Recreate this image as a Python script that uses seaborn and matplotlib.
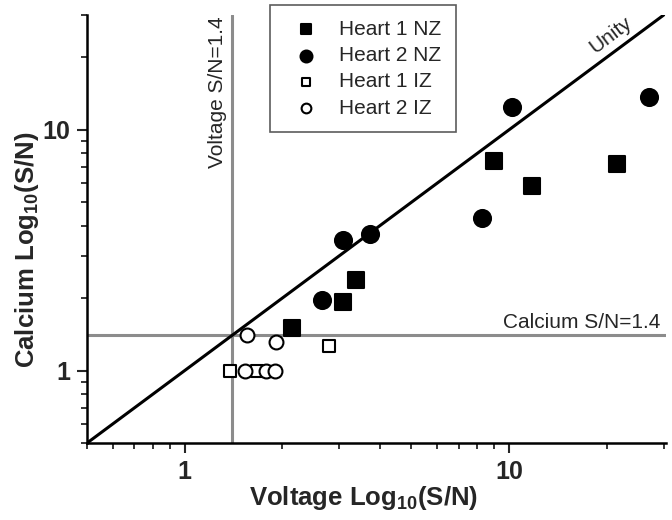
import matplotlib
matplotlib.use("Agg")
import matplotlib.pyplot as plt
import seaborn as sns
import pandas as pd
from matplotlib.ticker import LogLocator, NullFormatter, FixedFormatter, FixedLocator

# data (voltage S/N, calcium S/N)
heart1_nz_x = [2.14, 3.07, 3.37, 9.0, 11.8, 21.5]
heart1_nz_y = [1.51, 1.93, 2.39, 7.4, 5.86, 7.2]
heart2_nz_x = [2.65, 3.07, 3.72, 8.26, 10.2, 27.0]
heart2_nz_y = [1.97, 3.50, 3.70, 4.31, 12.5, 13.7]
heart1_iz_x = [1.38, 1.67, 2.78]
heart1_iz_y = [1.0, 1.0, 1.26]
heart2_iz_x = [1.53, 1.56, 1.78, 1.90, 1.91]
heart2_iz_y = [1.0, 1.4, 1.0, 1.0, 1.31]
threshold = 1.4
unity = [0.5, 30]

sns.set_style("ticks")
plt.rcParams["font.family"] = ["Liberation Sans", "DejaVu Sans"]
plt.rcParams["mathtext.fontset"] = "custom"
plt.rcParams["mathtext.rm"] = "Liberation Sans"
plt.rcParams["mathtext.bf"] = "Liberation Sans:bold"

fig = plt.figure(figsize=(6.72, 5.2), dpi=100)
ax = fig.add_axes([0.1295, 0.148, 0.8615, 0.823])

grey = "#8c8c8c"
ax.plot(unity, unity, color="black", lw=2.2, zorder=2)
ax.axvline(threshold, color=grey, lw=2.2, zorder=1)
ax.axhline(threshold, color=grey, lw=2.2, zorder=1)

groups = [
    ("Heart 1 NZ", heart1_nz_x, heart1_nz_y, "s", "black", 120),
    ("Heart 2 NZ", heart2_nz_x, heart2_nz_y, "o", "black", 150),
    ("Heart 1 IZ", heart1_iz_x, heart1_iz_y, "s", "white", 80),
    ("Heart 2 IZ", heart2_iz_x, heart2_iz_y, "o", "white", 100),
]
for name, xs, ys, mk, fc, size in groups:
    df = pd.DataFrame({"x": xs, "y": ys})
    sns.scatterplot(data=df, x="x", y="y", marker=mk, s=size, color=fc,
                    edgecolor="black", linewidth=1.5, label=name, ax=ax, zorder=3)

ax.set_xscale("log")
ax.set_yscale("log")
ax.set_xlim(0.5, 30.5)
ax.set_ylim(0.5, 30)

for axis in (ax.xaxis, ax.yaxis):
    axis.set_major_locator(FixedLocator([1, 10]))
    axis.set_major_formatter(FixedFormatter(["1", "10"]))
    axis.set_minor_locator(LogLocator(base=10, subs=range(2, 10)))
    axis.set_minor_formatter(NullFormatter())

ax.tick_params(which="major", direction="out", length=7, width=1.5, labelsize=18, pad=5)
ax.tick_params(which="minor", direction="out", length=4.5, width=1.3)
for lab in ax.get_xticklabels() + ax.get_yticklabels():
    lab.set_fontweight("bold")

sns.despine(ax=ax)
for sp in ("left", "bottom"):
    ax.spines[sp].set_linewidth(1.8)
    ax.spines[sp].set_color("black")

ax.set_xlabel(r"Voltage Log$\mathbf{_{10}}$(S/N)", fontsize=18.5, fontweight="bold")
ax.set_ylabel(r"Calcium Log$\mathbf{_{10}}$(S/N)", fontsize=18.5, fontweight="bold")
ax.xaxis.set_label_coords(0.477, -0.095)
ax.yaxis.set_label_coords(-0.08, 0.451)

ax.text(1.26, 29.5, "Voltage S/N=1.4", rotation=90, ha="center", va="top", fontsize=15)
ax.text(29.3, 1.44, "Calcium S/N=1.4", ha="right", va="bottom", fontsize=15)
ax.text(20.6, 24.8, "Unity", rotation=37, ha="center", va="center",
        rotation_mode="anchor", fontsize=15)

leg = ax.legend(loc="upper left", bbox_to_anchor=(0.316, 1.023), frameon=True,
                fancybox=False, fontsize=15, markerscale=0.7, handletextpad=0.5,
                borderpad=0.7, labelspacing=0.35, handlelength=2.1, borderaxespad=0)
leg.get_frame().set_edgecolor("#333333")
leg.get_frame().set_linewidth(1.2)

fig.savefig("out.png", dpi=100)
